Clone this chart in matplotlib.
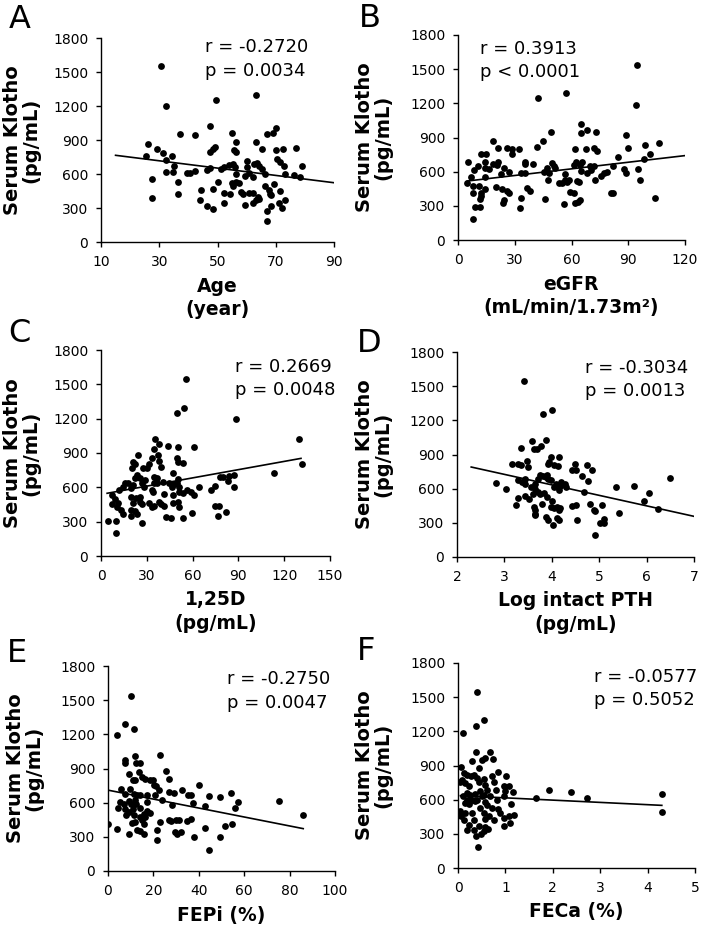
import matplotlib
matplotlib.use("Agg")
import matplotlib.pyplot as plt

plt.rcParams['font.family'] = ['DejaVu Sans']

# ---------------- Data ----------------
a_x = [30.6, 32.2, 37.2, 42.3, 49.4, 63.3, 47.3, 55.1, 70, 68.9, 67.1, 56.3, 63.2, 77.1, 72.5, 70.1, 65.4,
       49.2, 48.5, 47.3, 55.6, 56.3, 26.3, 29.3, 31.4, 34.3, 25.3, 32.3, 35, 32.4, 34.7, 39.4, 40.5, 42.3,
       46.5, 47.4, 51.1, 52.4, 54, 55.3, 56, 56.3, 60.1, 60.1, 62.6, 63.7, 64.4, 65.3, 66.4, 60.9, 62.2,
       59.6, 71.6, 70.6, 72.8, 73.1, 76.2, 78.2, 79.1, 27.4, 36.5, 50.3, 55.1, 56.3, 57.4, 55.4, 66.4,
       69.3, 67.7, 36.5, 44.3, 48.5, 52.4, 54.2, 58.2, 58.8, 60.9, 62.2, 63.9, 67.9, 68.2, 71.3, 27.4,
       43.9, 52.2, 62.2, 63.1, 64.1, 71, 73.1, 72.2, 46.3, 48.3, 59.3, 68.2, 67.1, 67.1]
a_y = [1550, 1197, 950, 947, 1256, 1297, 1023, 962, 1009, 965, 950, 882, 879, 829, 818, 809, 824,
       838, 824, 797, 809, 794, 862, 818, 788, 756, 756, 721, 670, 621, 621, 609, 609, 626,
       632, 653, 641, 662, 679, 691, 662, 603, 659, 712, 685, 700, 671, 647, 603, 609, 574,
       582, 706, 729, 671, 597, 594, 574, 668, 559, 529, 529, 521, 529, 521, 491, 494,
       515, 456, 426, 456, 470, 435, 421, 441, 421, 432, 432, 397, 426, 412, 450, 385,
       373, 347, 347, 368, 379, 347, 373, 303, 321, 294, 324, 321, 276, 185]
a_fit_x = [15, 90]
a_fit_y = [765, 523]

b_x = [94.6, 94, 57.3, 42.2, 65.2, 68.4, 72.8, 88.8, 49.4, 45, 42, 65.2, 18.5, 26, 28.3, 32.2, 21.1,
       12.1, 14.6, 28.3, 89.9, 98.6, 106.3, 61.7, 67.9, 72.1, 73.5, 84.4, 98.4, 101.6, 5.1, 8.6, 10.5,
       14.1, 14.1, 16.3, 21.1, 20.4, 18.6, 14.4, 22.5, 24.3, 26.9, 35.3, 35.5, 35.3, 33.2, 39.7, 45.7,
       47.1, 49.7, 50.6, 48.3, 47.6, 46.2, 51.1, 56.8, 53.3, 55, 56.4, 57.6, 58.5, 56.1, 61.3, 62.4,
       65.6, 64.7, 65.2, 63.1, 63.8, 61.7, 61.3, 59.4, 64.7, 63.4, 68, 70.1, 72.1, 70, 72.4, 75.7,
       77.3, 78.7, 81, 81.9, 81.9, 87.5, 88.8, 95, 96.3, 103.9, 7.9, 11.1, 14.1, 12.1, 12.1, 8.1,
       11.8, 11.8, 9, 8.1, 19.9, 23, 25.7, 26.9, 24.3, 23.7, 33.4, 33, 36.6, 38.1, 4.9, 7]
b_y = [1537, 1185, 1288, 1244, 1016, 969, 951, 922, 945, 869, 817, 937, 872, 811, 799, 799, 811,
       752, 752, 755, 811, 831, 852, 796, 796, 805, 784, 726, 714, 752, 688, 615, 653,
       688, 629, 621, 688, 656, 664, 556, 577, 635, 600, 664, 688, 591, 591, 664, 600,
       629, 673, 650, 585, 527, 357, 635, 577, 498, 498, 527, 512, 527, 316, 659, 685,
       688, 659, 609, 518, 512, 322, 410, 424, 351, 337, 585, 615, 653, 653, 527, 562,
       591, 600, 416, 416, 653, 621, 591, 621, 527, 366, 474, 474, 445, 410, 386, 410,
       357, 293, 293, 181, 468, 445, 433, 410, 351, 322, 366, 278, 454, 433, 498, 556]
b_fit_x = [5, 120]
b_fit_y = [518, 741]

c_x = [55.5, 54.6, 49.6, 88.4, 129.9, 131.4, 113.3, 35.4, 37.8, 43.7, 61.1, 50.2, 24.5, 34.5, 37.1,
       33.4, 38, 49.8, 50.7, 53.5, 21.2, 22.5, 31.4, 39, 20.1, 27.7, 29.9, 47.4, 80.1, 84.1, 78, 83.4,
       87.3, 87.3, 15.7, 17.5, 20.7, 22.3, 23.8, 25.5, 26.6, 28.8, 28.2, 34.7, 36.5, 34.7, 36.5, 33.2,
       34.3, 40.4, 44.8, 49.6, 50.7, 47.8, 51.1, 51.3, 14.2, 12, 53.9, 56.6, 58.7, 61.1, 64.4, 71.8,
       74.7, 7, 19.4, 19.4, 25.5, 23.2, 25.5, 26.6, 21.2, 31.4, 34.7, 38, 39, 41.5, 41.3, 46.3, 46.9,
       47.4, 50.4, 51.1, 9.2, 10.9, 7, 10.3, 12.9, 14.2, 19.4, 22.3, 23.8, 19.4, 33.6, 74.7, 77.3,
       76.9, 81.7, 59.4, 4.8, 9.8, 9.8, 26.6, 42.4, 45.6, 53.5]
c_y = [1544, 1296, 1252, 1197, 1025, 801, 728, 1019, 976, 964, 950, 955, 886, 932, 880,
       856, 833, 859, 818, 810, 818, 804, 804, 781, 766, 766, 766, 722, 693, 699, 693, 658,
       708, 606, 641, 641, 620, 679, 708, 679, 635, 664, 606, 693, 679, 635, 635, 577,
       556, 650, 635, 641, 670, 626, 606, 562, 606, 577, 548, 577, 556, 533, 606, 577,
       612, 530, 591, 519, 519, 504, 475, 454, 466, 460, 437, 475, 454, 539, 437, 606, 533,
       460, 469, 425, 495, 460, 451, 425, 402, 367, 402, 396, 367, 352, 425, 437, 437,
       352, 384, 373, 309, 309, 198, 291, 338, 329, 329]
c_fit_x = [4, 131]
c_fit_y = [548, 853]

d_x = [3.41, 3.82, 4.01, 3.58, 3.87, 3.78, 3.62, 3.68, 3.34, 3.15, 3.29, 3.34, 3.49, 3.48, 3.98, 4.16,
       3.94, 3.92, 4.04, 4.14, 4.49, 4.75, 4.85, 4.43, 4.5, 4.63, 4.77, 2.82, 3.04, 3.28, 3.37, 3.43,
       3.44, 3.56, 3.65, 3.71, 3.75, 3.81, 3.88, 3.9, 3.93, 3.99, 3.64, 3.7, 3.76, 3.83, 3.89, 3.61,
       3.51, 3.44, 3.28, 4.04, 4.09, 4.16, 4.2, 4.27, 4.18, 4.3, 4.68, 5.35, 5.73, 6.49, 6.05, 5.94,
       6.25, 3.25, 3.62, 3.64, 3.8, 4.01, 3.99, 4.04, 4.11, 4.15, 4.17, 4.43, 4.5, 4.8, 5.06, 4.89,
       4.92, 5.42, 3.64, 3.65, 3.87, 3.92, 4.11, 4.15, 4.03, 4.54, 5.01, 5.1, 5.1, 4.91]
d_y = [1545, 1253, 1294, 1016, 1024, 972, 951, 945, 957, 820, 820, 805, 790, 840, 878, 875,
       834, 814, 805, 796, 814, 805, 761, 761, 761, 711, 664, 653, 600, 673, 659, 644,
       688, 615, 644, 688, 717, 708, 702, 723, 688, 673, 600, 571, 550, 562, 527, 556,
       512, 533, 521, 615, 638, 585, 659, 644, 621, 615, 571, 615, 621, 694, 562, 492,
       424, 454, 439, 410, 468, 492, 439, 433, 439, 410, 430, 445, 454, 468, 460, 410,
       404, 389, 366, 375, 351, 328, 345, 328, 284, 328, 301, 301, 337, 190]
d_fit_x = [2.3, 7]
d_fit_y = [790, 357]

e_x = [10.1, 7.3, 11.3, 3.8, 22.7, 11.7, 7.6, 7.3, 12.5, 13.9, 9.1, 13.5, 25.5, 26.7, 15, 16.1, 18.3,
       19.8, 10.9, 11.7, 20.1, 21.3, 22.3, 39.9, 32.6, 26.9, 28.9, 35.2, 36.5, 44.7, 49.4, 54.3, 5.9,
       9.8, 7.6, 11.3, 12.8, 14.2, 17.1, 20.8, 12, 5.4, 9.1, 6.9, 10.1, 12.5, 17.1, 23.8, 28.2, 37.3,
       57.2, 75.5, 55.8, 42.8, 4.3, 7.6, 11, 14.2, 17.1, 15.7, 18.3, 9.1, 8.1, 11.3, 14.2, 15, 16.1,
       86.1, 26.7, 27.7, 30.1, 31.4, 35, 36.5, 22.7, 10.7, 11.7, 0, 16, 51.6, 54.6, 42.8, 4, 12.8,
       14.2, 16, 21.6, 29.6, 30.4, 32.3, 9.1, 38.1, 49.4, 21.6, 44.3]
e_y = [1539, 1287, 1249, 1190, 1017, 1009, 973, 944, 950, 950, 850, 871, 877, 812, 821, 812, 803,
       803, 797, 803, 759, 748, 715, 754, 710, 695, 689, 666, 666, 657, 651, 686, 724,
       724, 680, 680, 666, 666, 666, 666, 622, 607, 613, 592, 592, 586, 607, 622, 578, 598,
       607, 613, 554, 569, 557, 548, 548, 557, 528, 504, 510, 519, 490, 490, 475, 446, 475,
       490, 452, 440, 446, 446, 440, 454, 431, 425, 431, 416, 410, 396, 416, 381, 372, 358,
       352, 328, 358, 343, 322, 343, 322, 299, 299, 276, 182]
e_fit_x = [0, 86]
e_fit_y = [710, 372]

f_x = [0.41, 0.54, 0.38, 0.11, 0.38, 0.67, 0.73, 0.56, 0.29, 0.51, 0.06, 0.44, 0.12, 0.19, 0.27, 0.34,
       0.84, 1.02, 0.72, 0.40, 0.54, 0.44, 0.04, 0.15, 0.58, 0.75, 0.08, 0.24, 0.96, 1.07, 0.81, 1.00,
       1.16, 1.91, 2.39, 4.30, 1.65, 2.72, 0.18, 0.26, 0.35, 0.47, 0.61, 0.54, 0.11, 0.19, 0.29, 0.40,
       0.51, 0.67, 0.82, 0.96, 0.14, 0.24, 0.35, 0.58, 0.62, 1.12, 0.46, 0.72, 0.84, 0.05, 0.15, 0.29,
       0.54, 0.89, 1.19, 4.30, 0.07, 0.65, 0.96, 1.07, 0.12, 0.33, 0.58, 0.75, 1.10, 0.98, 0.24, 0.44,
       0.56, 0.63, 0.19, 0.54, 0.33, 0.48, 0.37, 0.42]
f_y = [1543, 1297, 1250, 1185, 1019, 1016, 957, 966, 942, 951, 884, 878, 834, 820, 805, 820,
       840, 811, 805, 790, 784, 752, 752, 746, 732, 752, 776, 717, 723, 723, 688, 673,
       667, 688, 664, 653, 615, 615, 659, 644, 653, 673, 688, 644, 629, 600, 600, 600,
       629, 629, 600, 629, 571, 562, 585, 577, 556, 562, 527, 527, 518, 498, 483, 483,
       483, 483, 462, 489, 454, 454, 439, 460, 424, 424, 430, 424, 395, 372, 380, 366,
       360, 342, 337, 322, 337, 301, 284, 181]
f_fit_x = [0.05, 4.3]
f_fit_y = [635, 550]

y_ticks = [0, 300, 600, 900, 1200, 1500, 1800]
y_label = "Serum Klotho\n(pg/mL)"

panels = [
    dict(letter="A", x=a_x, y=a_y, fx=a_fit_x, fy=a_fit_y, xlim=(10, 90), xticks=[10, 30, 50, 70, 90],
         xlabel="Age\n(year)", r="r = -0.2720", p="p = 0.0034",
         rect=(101, 38, 334, 242), tpos=(205, 52.5), lpos=(9, 28), ylx=22),
    dict(letter="B", x=b_x, y=b_y, fx=b_fit_x, fy=b_fit_y, xlim=(0, 120), xticks=[0, 30, 60, 90, 120],
         xlabel="eGFR\n(mL/min/1.73m²)", r="r = 0.3913", p="p < 0.0001",
         rect=(458, 35, 685, 240), tpos=(480, 54), lpos=(359, 27), ylx=374),
    dict(letter="C", x=c_x, y=c_y, fx=c_fit_x, fy=c_fit_y, xlim=(0, 150), xticks=[0, 30, 60, 90, 120, 150],
         xlabel="1,25D\n(pg/mL)", r="r = 0.2669", p="p = 0.0048",
         rect=(101, 350, 330, 556), tpos=(235, 371.5), lpos=(8, 342), ylx=22),
    dict(letter="D", x=d_x, y=d_y, fx=d_fit_x, fy=d_fit_y, xlim=(2, 7), xticks=[2, 3, 4, 5, 6, 7],
         xlabel="Log intact PTH\n(pg/mL)", r="r = -0.3034", p="p = 0.0013",
         rect=(457, 352, 694, 557), tpos=(585, 373), lpos=(357, 352), ylx=374),
    dict(letter="E", x=e_x, y=e_y, fx=e_fit_x, fy=e_fit_y, xlim=(0, 100), xticks=[0, 20, 40, 60, 80, 100],
         xlabel="FEPi (%)", r="r = -0.2750", p="p = 0.0047",
         rect=(108, 666, 335, 871), tpos=(227, 684.5), lpos=(7, 662), ylx=25),
    dict(letter="F", x=f_x, y=f_y, fx=f_fit_x, fy=f_fit_y, xlim=(0, 5), xticks=[0, 1, 2, 3, 4, 5],
         xlabel="FECa (%)", r="r = -0.0577", p="p = 0.5052",
         rect=(458, 663, 695, 868), tpos=(594, 681.5), lpos=(357, 660), ylx=374),
]

W, H = 705, 933
fig = plt.figure(figsize=(W / 100, H / 100), dpi=100)

for pn in panels:
    l, t, r, b = pn["rect"]
    w, h = r - l, b - t
    ax = fig.add_axes([l / W, 1 - b / H, w / W, h / H])
    ax.scatter(pn["x"], pn["y"], s=24, color="black", linewidths=0, zorder=3)
    ax.plot(pn["fx"], pn["fy"], color="black", lw=1.2, zorder=2)
    ax.set_xlim(*pn["xlim"])
    ax.set_ylim(0, 1800)
    ax.set_xticks(pn["xticks"])
    ax.set_yticks(y_ticks)
    for s in ["top", "right"]:
        ax.spines[s].set_visible(False)
    for s in ["left", "bottom"]:
        ax.spines[s].set_linewidth(1.0)
        ax.spines[s].set_color("black")
    ax.tick_params(direction="out", length=3.6, width=1.0, labelsize=10, colors="black")
    ax.tick_params(axis="y", pad=5.5)
    ax.tick_params(axis="x", pad=6)
    # y label
    ax.set_ylabel(y_label, fontsize=14, fontweight="bold", linespacing=0.95)
    ax.yaxis.label.set_va("center")
    ax.yaxis.set_label_coords((pn["ylx"] - l) / w, 0.5)
    # x label
    ax.set_xlabel(pn["xlabel"], fontsize=13.5, fontweight="bold", linespacing=1.3)
    ax.xaxis.label.set_va("top")
    ax.xaxis.set_label_coords(0.5, -34.5 / h)
    # stats text
    tx, ty = pn["tpos"]
    fig.text(tx / W, 1 - ty / H, pn["r"], fontsize=13, ha="left", va="baseline")
    fig.text(tx / W, 1 - (ty + 23.4) / H, pn["p"], fontsize=13, ha="left", va="baseline")
    # panel letter
    fig.text(pn["lpos"][0] / W, 1 - pn["lpos"][1] / H, pn["letter"], fontsize=23,
             ha="left", va="baseline")

fig.savefig("out.png", dpi=100)
